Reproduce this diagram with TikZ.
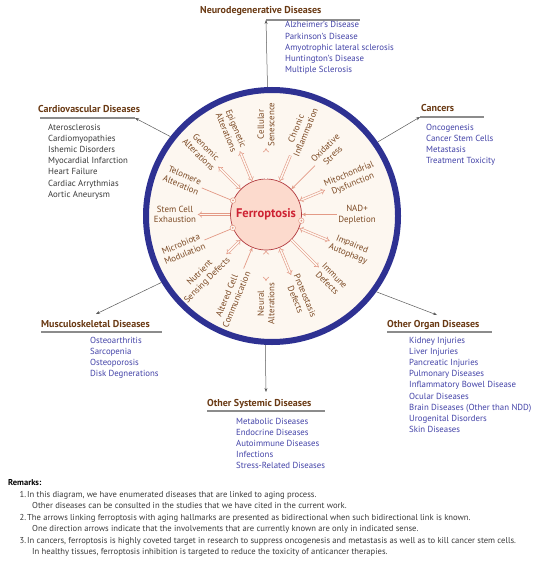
\documentclass[tikz,border=0pt]{standalone}
\usepackage{fontspec}
\setmainfont{PT Sans}
\usetikzlibrary{arrows.meta,calc}
\definecolor{ringblue}{HTML}{2E3192}
\definecolor{cream}{HTML}{FDF7F0}
\definecolor{ferrofill}{HTML}{FCDACD}
\definecolor{ferroline}{HTML}{B23A3F}
\definecolor{ferrotext}{HTML}{CE2233}
\definecolor{hbrown}{HTML}{7C4A24}
\definecolor{tbrown}{HTML}{6A3A14}
\definecolor{lblue}{HTML}{4343A8}
\definecolor{salmon}{HTML}{E39A86}
\definecolor{ulgray}{HTML}{8C8C8C}
\definecolor{cgray}{HTML}{5A5A5A}
\definecolor{rtext}{HTML}{3A3A3A}
\tikzset{
  hall/.style={font=\fontsize{8.9}{10.5}\selectfont, text=hbrown, align=center, inner sep=1.5pt},
  ttl/.style={font=\bfseries\fontsize{10}{12}\selectfont, text=tbrown, anchor=base west, inner sep=0pt},
  dlist/.style={font=\fontsize{8.8}{11.2}\selectfont, text=lblue, anchor=base west, align=left, inner sep=0pt},
  rem/.style={font=\fontsize{8.6}{10}\selectfont, text=rtext, anchor=base west, inner sep=0pt},
  uline/.style={draw=ulgray, line width=1.1pt},
  conn/.style={draw=cgray, line width=0.5pt, -{Stealth[length=4pt,width=3pt]}},
  dbl/.style={draw=salmon, double=cream, double distance=1.5pt, line width=0.6pt},
  hin/.style={dbl, -{Implies}},
  hout/.style={dbl, {Implies}-},
  hbi/.style={dbl, {Implies}-{Implies}},
  hthin/.style={draw=salmon, line width=0.7pt, -{Stealth[length=4pt,width=3.5pt]}},
  hmark/.style={draw=salmon, line width=0.7pt},
  mk/.style={circle, draw=salmon, fill=cream, minimum size=5.5pt, inner sep=0pt, line width=0.5pt,
    path picture={\fill[salmon] (path picture bounding box.center) circle (1pt);}}
}
\begin{document}
\begin{tikzpicture}[x=1pt,y=-1pt]
\fill[white] (0,0) rectangle (550,564);
\useasboundingbox (0,0) rectangle (550,564);

% big circle
\node[circle, draw=ringblue, line width=6pt, fill=cream, minimum size=252pt, inner sep=0pt] (ring) at (272,216) {};
% ferroptosis
\node[circle, draw=ferroline, fill=ferrofill, line width=0.7pt, minimum size=71pt, inner sep=0pt,
  font=\bfseries\fontsize{12.5}{14}\selectfont, text=ferrotext] (ferro) at (266,214.5) {Ferroptosis};
\coordinate (fc) at (266,214.5);

% hallmarks
\node[hall, rotate=90]    (h1)  at ($(fc)+(-90:90)$)    {Cellular\\Senescence};
\node[hall, rotate=67.5]  (h2)  at ($(fc)+(-67.5:91)$)  {Chronic\\Inflammation};
\node[hall, rotate=45]    (h3)  at ($(fc)+(-45:89)$)    {Oxidative\\Stress};
\node[hall, rotate=22.5]  (h4)  at ($(fc)+(-22.5:92)$)  {Mitochondrial\\Dysfunction};
\node[hall, rotate=0]     (h5)  at ($(fc)+(0:91)$)      {NAD+\\Depletion};
\node[hall, rotate=-22.5] (h6)  at ($(fc)+(22.5:91)$)   {Impaired\\Autophagy};
\node[hall, rotate=-45]   (h7)  at ($(fc)+(45:92)$)     {Immune\\Defects};
\node[hall, rotate=-67.5] (h8)  at ($(fc)+(67.5:90)$)   {Proteostasis\\Defects};
\node[hall, rotate=90]    (h9)  at ($(fc)+(90:89)$)     {Neural\\Alterations};
\node[hall, rotate=67.5]  (h10) at ($(fc)+(112.5:90)$)  {Altered Cell\\Communication};
\node[hall, rotate=45]    (h11) at ($(fc)+(135:88)$)    {Nutrient\\Sensing Defects};
\node[hall, rotate=22.5]  (h12) at ($(fc)+(157.5:90)$)  {Microbiota\\Modulation};
\node[hall, rotate=0]     (h13) at ($(fc)+(180:91)$)    {Stem Cell\\Exhaustion};
\node[hall, rotate=-22.5] (h14) at ($(fc)+(202.5:90)$)  {Telomere\\Alteration};
\node[hall, rotate=-45]   (h15) at ($(fc)+(225:90)$)    {Genomic\\Alterations};
\node[hall, rotate=-67.5] (h16) at ($(fc)+(247.5:91)$)  {Epigenetic\\Alterations};

% hallmark arrows
\draw[hout] (h1) -- (ferro);
\draw[hin]  (h2) -- (ferro);
\draw[hthin] (h3) -- (ferro);
\draw[hbi]  (h4) -- (ferro);
\draw[hthin] (h5) -- (ferro);
\node[mk] (m5) at (ferro.-10) {};
\draw[hbi]  (h6) -- (ferro);
\draw[hout] (h7) -- (ferro);
\draw[hbi]  (h8) -- (ferro);
\draw[hbi]  (h9) -- (ferro);
\draw[hthin] (h10) -- (ferro);
\draw[hbi]  (h11) -- (ferro);
\draw[hmark] (h12) -- (ferro);
\node[mk] (m12) at (ferro.202.5) {};
\draw[hout] (h13) -- (ferro);
\draw[hmark] (h14) -- (ferro);
\node[mk] (m14) at (ferro.157.5) {};
\draw[hbi]  (h15) -- (ferro);
\draw[hbi]  (h16) -- (ferro);

% connector end points
\coordinate (neuroEnd) at (266,20);
\coordinate (neuroR) at (360,20);
\coordinate (cancerEnd) at (420,117);
\coordinate (cancerR) at (484,117);
\coordinate (cardioEnd) at (135,118);
\coordinate (cardioL) at (40,118);
\coordinate (muscEnd) at (96,314);
\coordinate (muscL) at (41,332);
\coordinate (muscR) at (162,332);
\coordinate (organEnd) at (437,315);
\coordinate (organL) at (387,332);
\coordinate (organR) at (492,332);
\coordinate (sysEnd) at (266,392);
\coordinate (sysL) at (207,411);
\coordinate (sysR) at (325,411);

% underlines
\draw[uline] (neuroEnd) -- (neuroR);
\draw[uline] (cancerEnd) -- (cancerR);
\draw[uline] (cardioL) -- (cardioEnd);
\draw[uline] (muscL) -- (muscR);
\draw[uline] (organL) -- (organR);
\draw[uline] (sysL) -- (sysR);

% connectors
\draw[conn] (ring.92.7) -- (neuroEnd);
\draw[conn] (ring.35) -- (cancerEnd);
\draw[conn] (ring.142.6) -- (cardioEnd);
\draw[conn] (ring.211) -- (muscEnd);
\draw[conn] (ring.-36) -- (organEnd);
\draw[conn] (ring.267.3) -- (sysEnd);

% titles
\node[ttl] (tneuro) at (200,13.5) {Neurodegenerative Diseases};
\node[ttl] (tcancer) at (421,112) {Cancers};
\node[ttl] (tcardio) at (38,112.5) {Cardiovascular Diseases};
\node[ttl] (tmusc) at (41,327.5) {Musculoskeletal Diseases};
\node[ttl] (torgan) at (387,327.5) {Other Organ Diseases};
\node[ttl] (tsys) at (207,406.5) {Other Systemic Diseases};

% lists (base anchor = baseline of last line)
\node[dlist] (lneuro) at (285,72.8) {Alzheimer’s Disease\\Parkinson’s Disease\\Amyotrophic lateral sclerosis\\Huntington’s Disease\\Multiple Sclerosis};
\node[dlist] (lcancer) at (426,163.6) {Oncogenesis\\Cancer Stem Cells\\Metastasis\\Treatment Toxicity};
\node[dlist, text=rtext] (lcardio) at (48,197.2) {Aterosclerosis\\Cardiomyopathies\\Ishemic Disorders\\Myocardial Infarction\\Heart Failure\\Cardiac Arrythmias\\Aortic Aneurysm};
\node[dlist] (lmusc) at (90,376.6) {Osteoarthritis\\Sarcopenia\\Osteoporosis\\Disk Degnerations};
\node[dlist] (lorgan) at (409,432.6) {Kidney Injuries\\Liver Injuries\\Pancreatic Injuries\\Pulmonary Diseases\\Inflammatory Bowel Disease\\Ocular Diseases\\Brain Diseases (Other than NDD)\\Urogenital Disorders\\Skin Diseases};
\node[dlist] (lsys) at (236,468.8) {Metabolic Diseases\\Endocrine Diseases\\Autoimmune Diseases\\Infections\\Stress-Related Diseases};

% remarks
\node[rem, font=\bfseries\fontsize{8.5}{10}\selectfont, text=black] (rtitle) at (8,485) {Remarks:};
\node[rem] (n1) at (19.5,497) {1.};
\node[rem] (r1a) at (27,497) {In this diagram, we have enumerated diseases that are linked to aging process.};
\node[rem] (r1b) at (32,508.5) {Other diseases can be consulted in the studies that we have cited in the current work.};
\node[rem] (n2) at (19.5,520) {2.};
\node[rem] (r2a) at (27,520) {The arrows linking ferroptosis with aging hallmarks are presented as bidirectional when such bidirectional link is known.};
\node[rem] (r2b) at (32,531.5) {One direction arrows indicate that the involvements that are currently known are only in indicated sense.};
\node[rem] (n3) at (19.5,543) {3.};
\node[rem] (r3a) at (27,543) {In cancers, ferroptosis is highly coveted target in research to suppress oncogenesis and metastasis as well as to kill cancer stem cells.};
\node[rem] (r3b) at (32,554.5) {In healthy tissues, ferroptosis inhibition is targeted to reduce the toxicity of anticancer therapies.};
\end{tikzpicture}
\end{document}
